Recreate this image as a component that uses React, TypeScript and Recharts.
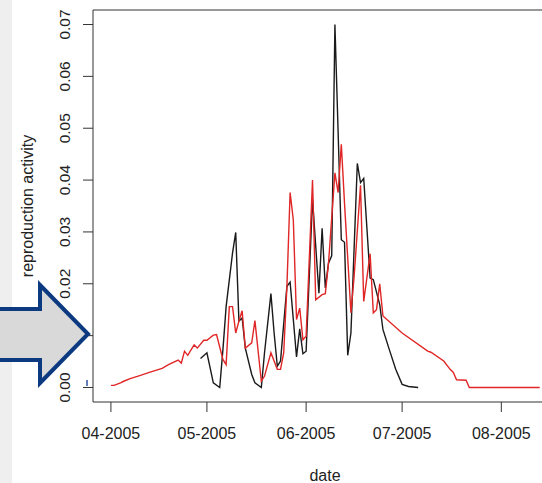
import React from "react";
import { LineChart, Line, XAxis, YAxis, ReferenceArea } from "recharts";

// days counted from 2005-04-01
const redDays = [0, 1, 3, 4, 6, 9, 12, 16, 18, 21, 22, 23, 24, 26, 27, 29, 30, 32, 33, 35, 36, 37, 38, 39, 40, 41, 42, 44, 45, 47, 48, 50, 52, 53, 54, 55, 56, 57, 58, 59, 60, 61, 63, 64, 66, 67, 68, 70, 71, 72, 73, 75, 76, 78, 79, 81, 82, 83, 84, 85, 91, 99, 100, 104, 106, 107, 108, 111, 112, 134];
const redValues = [0.0004, 0.0004, 0.0009, 0.0012, 0.0017, 0.0023, 0.0029, 0.0037, 0.0044, 0.0053, 0.0047, 0.007, 0.0062, 0.0082, 0.0076, 0.0091, 0.0091, 0.0101, 0.0102, 0.0054, 0.0044, 0.0156, 0.0156, 0.0105, 0.0128, 0.0148, 0.0076, 0.0086, 0.0129, 0.0012, 0.0022, 0.0067, 0.0035, 0.0035, 0.0067, 0.0195, 0.0376, 0.0323, 0.0131, 0.0153, 0.0092, 0.0099, 0.04, 0.0169, 0.0179, 0.0181, 0.024, 0.0414, 0.0376, 0.0469, 0.0355, 0.0144, 0.0214, 0.039, 0.0166, 0.0258, 0.0144, 0.015, 0.02, 0.0138, 0.0105, 0.007, 0.0068, 0.0051, 0.0035, 0.0029, 0.0015, 0.0014, 0, 0];

const blackDays = [28, 30, 32, 34, 35, 36, 38, 39, 40, 41, 42, 44, 45, 47, 48, 50, 51, 52, 53, 55, 56, 57, 58, 59, 60, 61, 63, 65, 66, 67, 68, 69, 70, 72, 73, 74, 75, 77, 78, 79, 81, 82, 84, 85, 87, 89, 91, 93, 96];
const blackValues = [0.0056, 0.0067, 0.0009, 0, 0.0073, 0.0156, 0.0259, 0.0299, 0.0128, 0.0134, 0.0076, 0.0025, 0.0009, 0, 0.0067, 0.0181, 0.0105, 0.0041, 0.0051, 0.0195, 0.0203, 0.0131, 0.0059, 0.0113, 0.0065, 0.007, 0.0363, 0.0182, 0.0307, 0.0192, 0.024, 0.0254, 0.07, 0.0285, 0.028, 0.0062, 0.0105, 0.0432, 0.0395, 0.0403, 0.0211, 0.0208, 0.016, 0.0112, 0.0073, 0.0035, 0.0006, 0.0002, 0];

const xTickDays = [0, 30, 61, 91, 122];
const xTickLabels = ["04-2005", "05-2005", "06-2005", "07-2005", "08-2005"];
const yTicks = [0, 0.01, 0.02, 0.03, 0.04, 0.05, 0.06, 0.07];

const redData = redDays.map((d, i) => ({ day: d, value: redValues[i] }));
const blackData = blackDays.map((d, i) => ({ day: d, value: blackValues[i] }));

const X_DOMAIN: [number, number] = [-5.6, 139.4];
const Y_DOMAIN: [number, number] = [-0.0028, 0.0728];
const FONT = "'Liberation Sans', Arial, sans-serif";
const INK = "#222";

function YTick({ y, payload }: any) {
  return (
    <text x={65} y={y} transform={`rotate(-90, 65, ${y})`} textAnchor="middle" dominantBaseline="central"
      fontSize={15.5} fontFamily={FONT} fill={INK}>
      {Number(payload.value).toFixed(2)}
    </text>
  );
}

function XTick({ x, payload }: any) {
  const idx = xTickDays.indexOf(payload.value);
  return (
    <text x={x} y={433} textAnchor="middle" dominantBaseline="central" fontSize={16} fontFamily={FONT} fill={INK}>
      {xTickLabels[idx]}
    </text>
  );
}

export default function App() {
  return (
    <div style={{ position: "absolute", left: 0, top: 0, width: 542, height: 483, overflow: "hidden", background: "#fff" }}>
      <LineChart width={600} height={483} margin={{ top: 10, right: 43, bottom: 0, left: 0 }}>
        <XAxis
          dataKey="day"
          type="number"
          domain={X_DOMAIN}
          ticks={xTickDays}
          allowDataOverflow
          height={81}
          axisLine={false}
          tickSize={10}
          tickLine={{ stroke: "#333" }}
          tick={<XTick />}
          label={{
            content: () => (
              <text x={325} y={475} textAnchor="middle" dominantBaseline="central" fontSize={16} fontFamily={FONT} fill={INK}>
                date
              </text>
            ),
          }}
        />
        <YAxis
          type="number"
          domain={Y_DOMAIN}
          ticks={yTicks}
          allowDataOverflow
          width={93}
          axisLine={false}
          tickSize={10}
          tickLine={{ stroke: "#333" }}
          tick={<YTick />}
          label={{
            content: () => (
              <text x={27} y={206} transform="rotate(-90, 27, 206)" textAnchor="middle" dominantBaseline="central"
                fontSize={16} fontFamily={FONT} fill={INK}>
                reproduction activity
              </text>
            ),
          }}
        />
        <ReferenceArea x1={X_DOMAIN[0]} x2={X_DOMAIN[1]} y1={Y_DOMAIN[0]} y2={Y_DOMAIN[1]}
          fill="none" stroke="#333" strokeWidth={1} ifOverflow="visible" />
        <Line data={blackData} dataKey="value" type="linear" stroke="#1a1a1a" strokeWidth={1.4}
          dot={false} isAnimationActive={false} />
        <Line data={redData} dataKey="value" type="linear" stroke="#e02626" strokeWidth={1.4}
          dot={false} isAnimationActive={false} />
      </LineChart>
      <svg width={542} height={483} style={{ position: "absolute", left: 0, top: 0, pointerEvents: "none" }}>
        <rect x={0} y={0} width={12} height={483} fill="#efefef" />
        <polygon points="-6,309 40,309 40,285 88,334 40,383 40,360 -6,360"
          fill="#d9d9d9" stroke="#0c3a80" strokeWidth={4} strokeLinejoin="miter" />
        <line x1={87} y1={380} x2={87} y2={386} stroke="#3050a0" strokeWidth={1.5} />
      </svg>
    </div>
  );
}
